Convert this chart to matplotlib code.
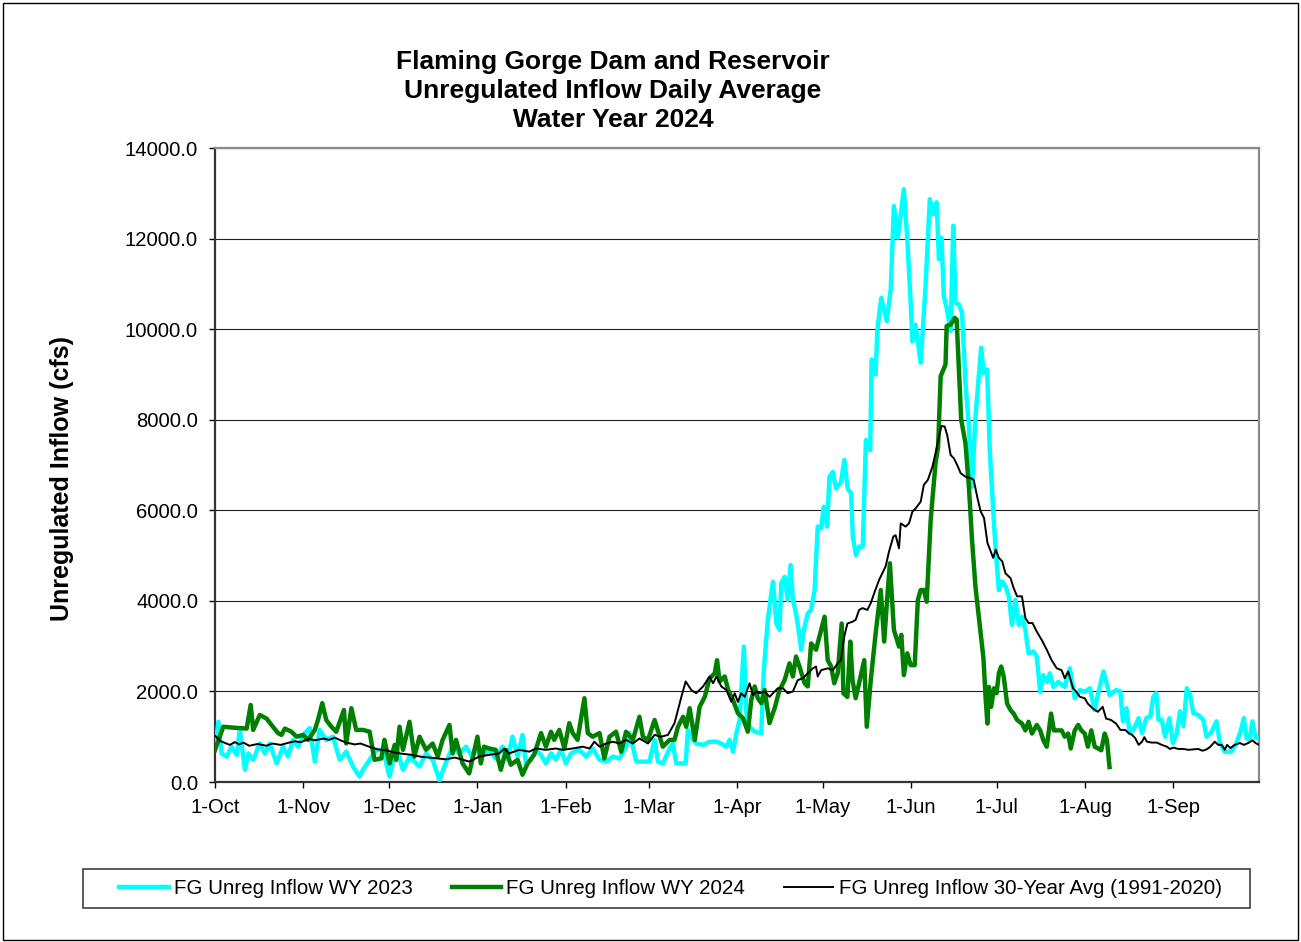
import matplotlib
matplotlib.use("Agg")
import matplotlib.pyplot as plt
import pandas as pd
import numpy as np
from matplotlib.patches import Rectangle

plt.rcParams['font.family'] = ['Liberation Sans', 'DejaVu Sans']

# ---------------- data (day offset from 1-Oct-2023, cfs) ----------------
wy2023_days = [0, 1.2, 2.3, 4.1, 5.8, 7.6, 8.7, 10.5, 11.7, 13.4, 15.7, 17.5, 19.2, 21.6, 23.9, 25.6, 27.4, 29.1,
               31.5, 33.2, 35, 36.7, 39, 41.4, 43.7, 46, 48.4, 50.7, 51.9, 54.2, 56.5, 58.9, 61.2, 63.5, 65.9, 68.2,
               71.7, 74, 76.3, 78.7, 80.4, 83.3, 85.7, 88,
               90.2, 92, 93.8, 96.1, 98.4, 100.8, 102.5, 104.3, 106.1, 107.8, 109, 110.7, 112.5, 114.3, 116, 117.8,
               119.5, 121.3, 123, 124.8, 127.7, 130.1, 132.4, 134.8, 137.1, 139.5, 141.8, 144.1, 145.3, 146.5, 147.7,
               150, 152.3, 154.1, 155.3, 157, 159.4, 160.5, 161.7, 163.5, 165, 165.8, 167.6, 168.7, 171.1, 173.4, 175.8,
               177.5, 179.3, 180.4, 181.6, 182.8, 183.9, 185.4, 186.3, 187.4, 189.2, 191.5, 192.4, 193.8, 195.6, 196.8,
               197.9, 198.5, 199.7, 200.8, 201.8, 202.6, 203.7, 204.6, 205.5, 206.7, 207.8, 209, 210.2, 211.3, 212.5,
               213.4, 214.6, 215.4, 216.6, 217.7, 219.5, 220.6, 221.8, 223, 223.6, 224.7, 225.9, 227.1, 228.2, 229.7,
               230.2, 231.6, 232.2, 233.6, 235.5, 236.9, 238.0, 239.4, 241.5, 242.7, 243.9, 244.5, 245.6, 247.4, 249.1,
               250.6, 251.8, 253, 253.8, 254.7, 255.5, 256.5, 257.9, 258.8, 259.6, 260.8, 261.9, 263.1, 264.3, 265.4,
               266.6, 268.6, 269.5, 270.7, 271.6, 273, 273.7, 274.8, 276, 277.1, 278.3, 279.4, 280.6, 281.8, 282.9,
               284.1, 285.2, 287, 288.1, 289.3, 290.4, 291.6, 292.7, 293.9, 295.6, 297.9, 299.7, 301.4, 303.2, 304.9,
               306.7, 308.4, 309.6, 311.5, 313.6, 315.9, 317.4, 318.3, 319.5, 320.7, 322, 323.8, 325, 326.5, 327.9,
               329, 330, 330.8, 331.9, 333.1, 334.6, 335.8, 337.2, 338.3, 339.5, 340.7, 341.8, 343, 344.7, 346.5,
               347.6, 349.4, 351.1, 352.3, 354, 356.3, 358.1, 359.5, 360.7, 361.6, 362.7, 363.7, 364.8, 366]
wy2023_cfs = [710, 1330, 630, 560, 780, 600, 1150, 270, 630, 490, 850, 630, 850, 410, 780, 560, 930, 780,
              1080, 1190, 450, 1150, 930, 1000, 490, 670, 340, 120, 270, 490, 710, 710, 120, 780, 270, 560,
              340, 630, 490, 40, 340, 780, 630, 780,
              560, 780, 600, 710, 520, 780, 490, 1000, 560, 1040, 410, 490, 710, 600, 410, 630,
              490, 710, 410, 630, 710, 560, 740, 490, 450, 560, 520, 780, 1080, 780, 450,
              450, 450, 930, 450, 410, 740, 850, 410, 410, 410, 1150, 930, 850, 820, 890, 890,
              850, 780, 930, 670, 1080, 1370, 2990, 1520, 1220, 1110, 1080, 2470, 3580, 4420, 3500,
              3360, 4390, 4530, 4020, 4790, 4020, 3720, 3360, 2920, 3430, 3720, 3800, 4240, 5640, 5600,
              6080, 5640, 6740, 6850, 6480, 6630, 7110, 6480, 6370, 5420, 5010, 5200, 5200, 7550, 7330,
              9330, 9000, 9990, 10690, 10180, 10880, 12720, 12020, 13090, 11990, 10580, 9730, 10100, 9260, 10950,
              12870, 12540, 12800, 11540, 12020, 10730, 10470, 9960, 12280, 10580, 10550, 10360, 8810, 7850, 6520,
              8070, 9590, 9030, 9110, 7340, 5790, 5130, 4240, 4430, 4320, 4100, 3470, 4020, 3470, 3650,
              3360, 2840, 2880, 2770, 1990, 2360, 2210, 2400, 2100, 2210, 2100, 2510, 1850, 2030, 1990,
              2070, 1590, 1960, 2440, 1920, 2030, 2000, 1340, 1630, 1080, 1150, 1410, 1080, 1410, 1450,
              1890, 1960, 1370, 1370, 1000, 1410, 860, 1080, 1560, 1230, 2070, 1930, 1520, 1480, 1370,
              1000, 1110, 1340, 860, 670, 670, 860, 1110, 1410, 970, 930, 1340, 970, 970]

wy2024_days = [0, 2.9, 6.4, 11.1, 12.5, 13.4, 15.7, 18.1, 19.8, 22.1, 23.3, 24.5, 26.8, 28.6, 30.9, 32.6, 35,
               36.1, 37.6, 39, 40.8, 42.5, 45.2, 46, 47.8, 49.5, 51.9, 54.2, 55.9, 58.3, 59.4, 61.2, 63, 63.5,
               64.7, 65.9, 68.2, 69.9, 71.7, 74, 76.3, 78.1, 79.8, 82.2, 83.3, 84.5, 86.8,
               89.1, 90.2, 92, 93.2, 94.3, 96.1, 98.4, 100.2, 102, 103.7, 106.1, 107.8, 109.6, 111.9, 114.3, 116,
               117.8, 118.9, 120.7, 122.5, 124.2, 125.4, 127.1, 129.5, 130.7, 132.4, 134.8, 136.5, 138.3, 140.6,
               142.4, 144.1, 146.5, 148.8, 150, 151.8, 154.1, 155.9, 157, 159.4, 161.1, 162.3, 164.1, 165.2, 166.4,
               168.2, 169.9, 171.7, 173.4, 175.2, 176, 176.9,
               178.7, 179.9, 181.6, 183.3, 185.1, 186.8, 188, 189.2, 190.3, 191.5, 192.7, 194.4, 196.2, 197.9,
               199.7, 201.4, 202.6, 203.7, 204.9, 206.7, 207.8, 209, 210.7, 212.5, 213.7, 214.8, 216, 217.1, 218.3,
               219.7, 220.3, 221.7, 222.7, 223.5, 224.6, 225.8, 227.6, 228.5, 229.9, 231.6, 233.4, 234.6, 235.7,
               236.6, 238, 239.8, 240.6, 241.5, 242.7, 243.9, 245.3, 246.4, 247.4, 248.5, 249.5, 250.9, 252.6,
               253.5, 254.4, 256.1, 256.5, 257.9, 259.3, 260, 260.8, 261.6, 263.1, 264.3, 265.4, 266.6, 268.4,
               269.4, 270.2, 270.8, 271.3, 272.1, 273.1, 274, 274.8, 275.6, 276.5, 277.7, 278.9, 280, 281.2, 282.9,
               284.1, 285.2, 286.4, 288.1, 289.3, 290.4, 291.6, 293.1, 294.1, 295.3, 296.8, 297.9, 299.1, 300,
               301.4, 302.6, 303.7, 304.9, 306, 307.2, 308.4, 309.6, 310.7, 311.9, 312.7, 313.6]
wy2024_cfs = [710, 1220, 1200, 1180, 1700, 1150, 1480, 1400, 1260, 1080, 1040, 1180, 1110, 1000, 1040, 930, 1150,
              1370, 1740, 1370, 1220, 1110, 1590, 850, 1630, 1150, 1150, 1110, 490, 520, 930, 410, 820, 490,
              1220, 710, 1330, 560, 1000, 710, 850, 560, 930, 1260, 630, 930, 410,
              190, 490, 1000, 410, 780, 740, 710, 270, 710, 380, 490, 160, 410, 600, 1080, 780,
              1110, 930, 1150, 740, 1300, 1080, 930, 1850, 1080, 1000, 1080, 520, 1000, 1110,
              670, 1110, 930, 1440, 1000, 930, 1370, 1000, 780, 930, 930, 1220, 1440, 1220, 1630,
              930, 1660, 1880, 2290, 2400, 2690, 2220,
              2330, 2030, 1810, 1520, 1410, 1110, 1810, 2110, 1850, 1740, 2030, 1300, 1630, 2030,
              2250, 2620, 2330, 2770, 2550, 2180, 2110, 3060, 2920, 3360, 3650, 2690, 2550, 2180, 2400,
              3500, 1960, 1880, 3100, 2250, 1850, 2180, 2690, 1220, 2250, 3280, 4240, 3100, 4090,
              4830, 3360, 2990, 3250, 2360, 2840, 2580, 2580, 4020, 4240, 4240, 3980, 5790, 7040,
              7400, 8960, 9220, 10070, 10100, 10250, 10210, 9110, 8000, 7480, 6520, 5340, 4310, 3300,
              2730, 1810, 1290, 2100, 1660, 2070, 1960, 2400, 2550, 2330, 1730, 1590, 1510, 1370, 1290,
              1140, 1330, 1070, 1260, 1140, 920, 780, 1510, 1140, 1140, 1140, 1000, 1070, 740,
              1140, 1260, 1140, 1070, 780, 1140, 780, 740, 700, 1070, 920, 330]

avg_days = [0, 2, 5.2, 7, 8.5, 10, 12, 15, 18, 20, 23, 26, 28, 30, 33, 35, 38, 40, 42, 44, 46, 49, 51, 54, 57,
            60, 63, 66, 69, 72, 75, 78, 81, 84, 87,
            89.1, 92.6, 96.1, 99.6, 101.4, 103.1, 106.6, 110.2, 112.5, 116, 119.5, 121.9, 125.4, 128.9, 131.3,
            133, 134.8, 137.1, 139.5, 141.8, 144.1, 146.5, 148.8, 151.8, 154.1, 156.4, 158.8, 161.1, 163.5, 165,
            167, 168.7, 171.1, 173.4, 174.6, 175.8,
            177.5, 179.3, 181, 182.2, 183.3, 184.5, 185.7, 187.4, 188.6, 189.8, 190.9, 192.7, 194.4, 195.6,
            197.3, 199.1, 200.8, 202.6, 204.3, 206.1, 207.8, 209.6, 210.7, 211.3, 212.5, 214.8, 216.6, 218.3,
            219.4, 220.6, 221.7, 223.5, 224.6, 225.8, 227, 228.7, 229.9, 231.1, 232.8, 235.1, 236.3, 237.8,
            238.6, 239.8, 240.4, 242.1, 243.3, 244.5, 245.6, 247.4, 248.5, 249.9, 251.5, 252.6, 253.8, 254.7,
            255.8, 256.7, 257.9, 259, 260.2, 261.4, 263.1, 264.9, 266, 267.2,
            268.4, 269.6, 270.8, 272.8, 273.7, 274.8, 276, 277.1, 278.9, 280, 281.2, 282.9, 284.1, 285.2, 286.6,
            288.1, 289.8, 291.6, 293.3, 295.1, 296.8, 297.9, 299.1, 300.8, 302, 303.2, 304.9, 306, 307.8, 309.5,
            311.2, 312.4, 314.1, 315.9,
            317.4, 319.1, 320.3, 321.5, 322.6, 323.8, 325, 325.8, 326.7, 328.4, 330.2, 331.9, 333.7, 334.8, 336,
            337.7, 339.5, 341.2, 343, 344.7, 346.2, 347.6, 348.8, 350.5, 351.7, 352.9, 354, 354.8, 356, 357.5,
            359.3, 360.7, 362.2, 363.7, 364.8, 366]
avg_cfs = [1020, 900, 820, 880, 830, 870, 800, 840, 800, 850, 820, 870, 900, 880, 950, 920, 960, 930, 980, 920,
           870, 830, 850, 780, 720, 700, 650, 620, 600, 560, 540, 520, 500, 540, 490,
           450, 560, 600, 630, 740, 630, 710, 670, 740, 710, 740, 710, 740, 780, 740,
           890, 780, 850, 890, 850, 930, 850, 960, 850, 1040, 1000, 1040, 1300, 1880, 2220,
           2030, 1960, 2110, 2330, 2180, 2330,
           2110, 2030, 1770, 1960, 1770, 1960, 1880, 2180, 1920, 2000, 1960, 2000, 1880, 1960,
           2070, 2070, 1960, 2000, 2250, 2290, 2400, 2510, 2550, 2330, 2470, 2510, 2470, 2620,
           2690, 3210, 3500, 3540, 3580, 3800, 3840, 3800, 3950, 4170, 4460, 4760, 5090, 5420,
           5450, 5160, 5710, 5640, 5710, 5970, 6040, 6190, 6560, 6670, 6960, 7260, 7630, 7860,
           7850, 7660, 7220, 7150, 7000, 6820, 6740, 6710, 6670, 6300,
           5980, 5830, 5280, 4950, 5130, 4950, 4870, 4610, 4500, 4280, 4100, 4100, 3620, 3510, 3510,
           3320, 3140, 2920, 2690, 2510, 2470, 2290, 2440, 2070, 1990, 1880, 1850, 1730, 1620, 1550,
           1660, 1400, 1370, 1290,
           1150, 1150, 1080, 1040, 970, 820, 890, 990, 890, 870, 870, 820, 780, 730, 760,
           730, 730, 710, 720, 730, 690, 720, 770, 890, 820, 820, 710, 820, 750, 820,
           860, 820, 860, 920, 860, 820]

month_labels = ['1-Oct', '1-Nov', '1-Dec', '1-Jan', '1-Feb', '1-Mar', '1-Apr', '1-May',
                '1-Jun', '1-Jul', '1-Aug', '1-Sep']
y_ticks = [0, 2000, 4000, 6000, 8000, 10000, 12000, 14000]
series_names = ['FG Unreg Inflow WY 2023', 'FG Unreg Inflow WY 2024',
                'FG Unreg Inflow 30-Year Avg (1991-2020)']
title_text = 'Flaming Gorge Dam and Reservoir\nUnregulated Inflow Daily Average\nWater Year 2024'
ylabel_text = 'Unregulated Inflow (cfs)'

# ---------------- figure ----------------
W, H = 1301, 942
fig = plt.figure(figsize=(W / 100, H / 100), dpi=100)
L, R, T, B = 215, 1259, 148, 782
ax = fig.add_axes([L / W, 1 - B / H, (R - L) / W, (B - T) / H])

start = pd.Timestamp('2023-10-01')
def to_dates(d):
    return start + pd.to_timedelta(np.asarray(d, dtype=float), unit='D')

l1, = ax.plot(to_dates(wy2023_days), wy2023_cfs, color='#00FFFF', lw=3.2, solid_joinstyle='round', zorder=3)
l2, = ax.plot(to_dates(wy2024_days), wy2024_cfs, color='#008000', lw=3.2, solid_joinstyle='round', zorder=4)
l3, = ax.plot(to_dates(avg_days), avg_cfs, color='black', lw=1.4, zorder=5)

month_starts = pd.date_range('2023-10-01', periods=len(month_labels), freq='MS')
ax.set_xlim(start, pd.Timestamp('2024-10-01'))
ax.set_xticks(month_starts)
ax.set_xticklabels(month_labels)
ax.set_ylim(0, 14000)
ax.set_yticks(y_ticks)
ax.set_yticklabels([f'{v:.1f}' for v in y_ticks])

ax.tick_params(axis='both', direction='out', length=4.2, width=1, colors='black', labelsize=14.6)
ax.tick_params(axis='y', pad=8)
ax.tick_params(axis='x', pad=7)
ax.grid(axis='y', color='#202020', lw=0.8, zorder=1)
ax.set_axisbelow(True)
for s in ['left', 'bottom']:
    ax.spines[s].set_color('#333333')
    ax.spines[s].set_linewidth(1.6)
for s in ['top', 'right']:
    ax.spines[s].set_color('#8a8a8a')
    ax.spines[s].set_linewidth(1.6)

ax.set_ylabel(ylabel_text, fontsize=18, fontweight='bold', va='center', ha='center')
ax.yaxis.set_label_coords((62 - L) / (R - L), (B - 478) / (B - T))

fig.text(613 / W, 1 - 91 / H, title_text, ha='center', va='center', fontsize=19,
         fontweight='bold', linespacing=1.28)

# legend
leg = fig.legend([l1, l2, l3], series_names, loc='center', ncol=3,
                 bbox_to_anchor=(670.5 / W, 1 - 888.5 / H), bbox_transform=fig.transFigure,
                 frameon=False, fontsize=14.8, handlelength=2.4, handletextpad=0.25,
                 columnspacing=1.9, borderpad=0)
fig.patches.append(Rectangle((83 / W, 1 - 908 / H), (1250 - 83) / W, (908 - 869) / H,
                             transform=fig.transFigure, fill=False, edgecolor='#404040', lw=1.2))
# outer chart border
fig.patches.append(Rectangle((3 / W, 2 / H), (1298 - 3) / W, (939 - 2) / H,
                             transform=fig.transFigure, fill=False, edgecolor='#000000', lw=1.0))

fig.savefig('out.png', dpi=100)
